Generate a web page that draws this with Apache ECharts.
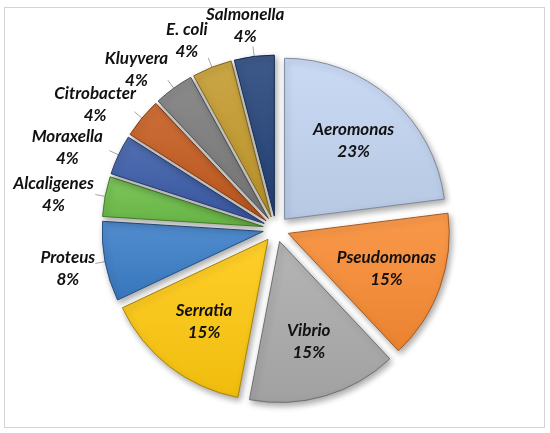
<!DOCTYPE html>
<html>
<head>
<meta charset="utf-8">
<script src="https://cdn.jsdelivr.net/npm/echarts@6/dist/echarts.min.js"></script>
<style>
html,body{margin:0;padding:0;background:#fff;}
#chart{position:absolute;left:0;top:0;width:550px;height:433px;}
#frame{position:absolute;left:4px;top:7px;width:539px;height:419px;border:1px solid #d4d4d4;pointer-events:none;}
</style>
</head>
<body>
<div id="chart"></div>
<div id="frame"></div>
<script>
const categories = ['Aeromonas','Pseudomonas','Vibrio','Serratia','Proteus','Alcaligenes','Moraxella','Citrobacter','Kluyvera','E. coli','Salmonella'];
const values = [23, 15, 15, 15, 8, 4, 4, 4, 4, 4, 4];
const colors = ['#C3D5F2','#F98B33','#ABABAB','#FFC90E','#3A7DC8','#6CBE47','#3A5BA8','#C55A1E','#7B7B7B','#C49A2C','#24437A'];
const insideLabels = ['Aeromonas','Pseudomonas','Vibrio','Serratia'];

function shade(hex, f){
  const n = parseInt(hex.slice(1),16);
  let r=(n>>16)&255,g=(n>>8)&255,b=n&255;
  if(f>=0){r=r+(255-r)*f;g=g+(255-g)*f;b=b+(255-b)*f;}
  else{r=r*(1+f);g=g*(1+f);b=b*(1+f);}
  return 'rgb('+Math.round(r)+','+Math.round(g)+','+Math.round(b)+')';
}

const FONT = { fontFamily: 'Lato', fontStyle: 'italic', fontWeight: 'bold', fontSize: 17 };
const LH = 22;
const CX = 276, CY = 229, R = 161, OFF = 13, LINE = 10;
const total = values.reduce((a,b)=>a+b,0);
const ctx = document.createElement('canvas').getContext('2d');
ctx.font = 'italic bold 17px Lato';

let acc = 0;
const data = categories.map((name,i)=>{
  const m = (acc + values[i]/2)/total*2*Math.PI; acc += values[i];
  const ux = Math.sin(m), uy = -Math.cos(m);
  const inside = insideLabels.indexOf(name) >= 0;
  const pct = Math.round(values[i]/total*100) + '%';
  const w = Math.max(ctx.measureText(name).width, ctx.measureText(pct).width), h = 2*LH;
  let sx, sy;
  if (inside) {
    const s = 0.13*R; sx = ux*s; sy = uy*s;
  } else {
    const t = Math.min(w/2/Math.max(Math.abs(ux),1e-6), h/2/Math.max(Math.abs(uy),1e-6));
    // crowding shift along the counter-clockwise tangent, strongest in the upper-left quadrant
    const q = (m - 1.5*Math.PI) / (0.5*Math.PI);
    const tan = (q > 0 && q < 1) ? 20*Math.sin(Math.PI*q) : 0;
    sx = ux*t - Math.cos(m)*tan;
    sy = uy*t - Math.sin(m)*tan;
  }
  const pad = [Math.max(0,2*sy), Math.max(0,-2*sx), Math.max(0,-2*sy), Math.max(0,2*sx)];
  return {
    name: name, value: values[i],
    selected: true,
    itemStyle: {
      color: {type:'linear',x:0,y:0,x2:0,y2:1,colorStops:[{offset:0,color:shade(colors[i],0.12)},{offset:1,color:shade(colors[i],-0.06)}]},
      borderColor: shade(colors[i],-0.35)
    },
    label: { position: inside ? 'inside' : 'outside', padding: pad },
    labelLine: { show: !inside }
  };
});

const chart = echarts.init(document.getElementById('chart'), null, {renderer:'canvas'});
chart.setOption({
  animation: false,
  series: [{
    type: 'pie',
    center: [CX, CY],
    radius: [0, R],
    startAngle: 90,
    clockwise: true,
    selectedMode: 'multiple',
    selectedOffset: OFF,
    avoidLabelOverlap: false,
    data: data,
    itemStyle: {
      borderWidth: 1,
      shadowBlur: 6,
      shadowColor: 'rgba(0,0,0,0.35)',
      shadowOffsetX: 2,
      shadowOffsetY: 3
    },
    label: Object.assign({
      show: true,
      distanceToLabelLine: 0,
      color: '#111',
      formatter: function(p){ return '{a|' + p.name + '}\n{a|' + Math.round(p.percent) + '%}'; },
      rich: { a: Object.assign({ align: 'center', lineHeight: LH, color: '#111' }, FONT) }
    }, FONT),
    labelLine: { length: LINE, length2: 0, lineStyle: { color: '#a6a6a6', width: 1 } },
    labelLayout: function(p){
      return { align: 'center', verticalAlign: 'middle' };
    }
  }]
});
</script>
</body>
</html>
